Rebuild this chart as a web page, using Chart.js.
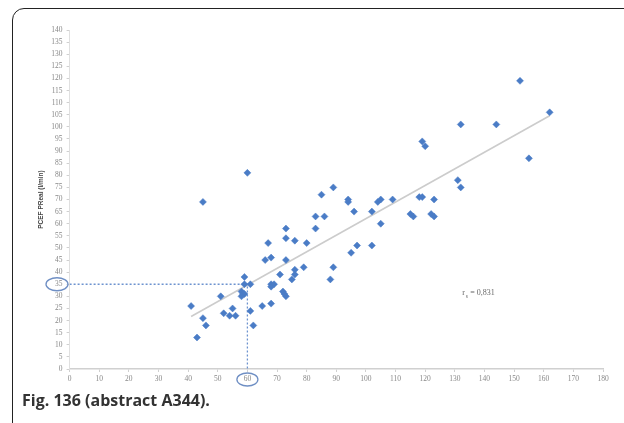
<!DOCTYPE html>
<html>
<head>
<meta charset="utf-8">
<script src="https://cdn.jsdelivr.net/npm/chart.js@4/dist/chart.umd.min.js"></script>
<style>
  html, body { margin: 0; padding: 0; background: #fff; overflow: hidden; }
  body { width: 624px; height: 423px; position: relative; }
  #frame {
    position: absolute; left: 12px; top: 8px; width: 700px; height: 500px;
    border: 1.5px solid #222; border-top-left-radius: 12px; box-sizing: border-box;
  }
  #wrap { position: absolute; left: 0; top: 0; width: 624px; height: 423px; }
  #caption {
    position: absolute; left: 22px; top: 388px; font-family: "Open Sans", sans-serif;
    font-weight: 700; font-size: 16.5px; color: #333; white-space: nowrap;
    transform: scaleX(0.97); transform-origin: left top;
  }
</style>
</head>
<body>
<div id="frame"></div>
<div id="wrap"><canvas id="chart" width="624" height="423"></canvas></div>
<div id="caption">Fig. 136 (abstract A344).</div>
<script>
// measured flow (x) vs PCEF real flow (y)
const flowX = [41, 43, 45, 46, 45, 51, 52, 54, 55, 56,
  58, 58.5, 59, 58, 59, 59, 60, 61, 61, 62,
  65, 66, 67, 68, 68, 68, 69, 68, 71, 72,
  72.5, 73, 73, 73, 73, 75, 76, 76, 76, 79,
  80, 83, 83, 85, 86, 88, 89, 89, 94, 94,
  95, 96, 97, 102, 102, 104, 105, 105, 109, 115,
  116, 118, 119, 119, 120, 122, 123, 123, 131, 132,
  132, 144, 152, 155, 162];
const flowY = [26, 13, 21, 18, 69, 30, 23, 22, 25, 22,
  32, 31, 31, 30, 38, 35, 81, 35, 24, 18,
  26, 45, 52, 46, 27, 35, 35, 34, 39, 32,
  31, 30, 58, 54, 45, 37, 39, 41, 53, 42,
  52, 58, 63, 72, 63, 37, 42, 75, 70, 69,
  48, 65, 51, 51, 65, 69, 70, 60, 70, 64,
  63, 71, 71, 94, 92, 64, 63, 70, 78, 75,
  101, 101, 119, 87, 106];

const trendX = [41, 162];
const trendY = [21.7, 104.6];

const guideX = [0, 60, 60];
const guideY = [35, 35, 0];

const xTicks = [0, 10, 20, 30, 40, 50, 60, 70, 80, 90, 100, 110, 120, 130, 140, 150, 160, 170, 180];
const yTicks = [0, 5, 10, 15, 20, 25, 30, 35, 40, 45, 50, 55, 60, 65, 70, 75, 80, 85, 90, 95,
  100, 105, 110, 115, 120, 125, 130, 135, 140];

const rsLabel = { x: 132.5, y: 31.3, text: "= 0,831" };

const toPoints = (xs, ys) => xs.map((x, i) => ({ x: x, y: ys[i] }));

const tickFont = { family: "Liberation Serif", size: 7.5 };

// circles around the 35 and 60 tick labels, and the r_s note
const marks = {
  id: "marks",
  afterDraw(chart) {
    const ctx = chart.ctx;
    const xs = chart.scales.x, ys = chart.scales.y;
    ctx.save();
    ctx.strokeStyle = "#6f8fc4";
    ctx.lineWidth = 1.3;
    ctx.beginPath();
    ctx.ellipse(57, ys.getPixelForValue(guideY[0]), 11, 6.5, 0, 0, Math.PI * 2);
    ctx.stroke();
    ctx.beginPath();
    ctx.ellipse(xs.getPixelForValue(guideX[1]), 379.5, 10.5, 6.5, 0, 0, Math.PI * 2);
    ctx.stroke();

    const px = xs.getPixelForValue(rsLabel.x), py = ys.getPixelForValue(rsLabel.y);
    ctx.fillStyle = "#666";
    ctx.textBaseline = "middle";
    ctx.font = "8px Liberation Serif";
    ctx.fillText("r", px, py);
    ctx.font = "5.5px Liberation Serif";
    ctx.fillText("s", px + 3.5, py + 3);
    ctx.font = "8px Liberation Serif";
    ctx.fillText(rsLabel.text, px + 8, py);
    ctx.restore();
  }
};

new Chart(document.getElementById("chart"), {
  type: "scatter",
  data: {
    datasets: [
      {
        type: "line",
        data: toPoints(guideX, guideY),
        borderColor: "#6d93cf",
        borderWidth: 1.3,
        borderDash: [2, 2],
        pointRadius: 0,
        fill: false,
        order: 3
      },
      {
        type: "line",
        data: toPoints(trendX, trendY),
        borderColor: "#cccccc",
        borderWidth: 1.6,
        pointRadius: 0,
        fill: false,
        order: 2
      },
      {
        data: toPoints(flowX, flowY),
        pointStyle: "rectRot",
        pointRadius: 3.5,
        backgroundColor: "#4a7cc6",
        borderColor: "#4a7cc6",
        borderWidth: 0.5,
        order: 1
      }
    ]
  },
  options: {
    responsive: false,
    animation: false,
    events: [],
    layout: { padding: { left: 34, top: 30, right: 21, bottom: 34 } },
    plugins: { legend: { display: false }, tooltip: { enabled: false } },
    scales: {
      x: {
        type: "linear",
        min: 0,
        max: 180,
        afterBuildTicks: (s) => { s.ticks = xTicks.map((v) => ({ value: v })); },
        afterFit: (s) => { s.height = 20; },
        grid: { display: true, drawOnChartArea: false, drawTicks: true, tickLength: 3, color: "#d0d0d0" },
        border: { display: true, color: "#d0d0d0", width: 1.5 },
        ticks: { color: "#888", font: tickFont, padding: 3, maxRotation: 0, autoSkip: false }
      },
      y: {
        type: "linear",
        min: 0,
        max: 140,
        afterBuildTicks: (s) => { s.ticks = yTicks.map((v) => ({ value: v })); },
        afterFit: (s) => { s.width = 35.6; },
        grid: { display: true, drawOnChartArea: false, drawTicks: true, tickLength: 3, color: "#d0d0d0" },
        border: { display: true, color: "#e0e0e0", width: 1 },
        ticks: { color: "#888", font: tickFont, padding: 4, autoSkip: false },
        title: {
          display: true,
          text: "PCEF PReal (l/min)",
          color: "#444",
          font: { family: "Liberation Sans", size: 6.5, weight: "bold" },
          padding: { top: 3, bottom: 0 }
        }
      }
    }
  },
  plugins: [marks]
});
</script>
</body>
</html>
